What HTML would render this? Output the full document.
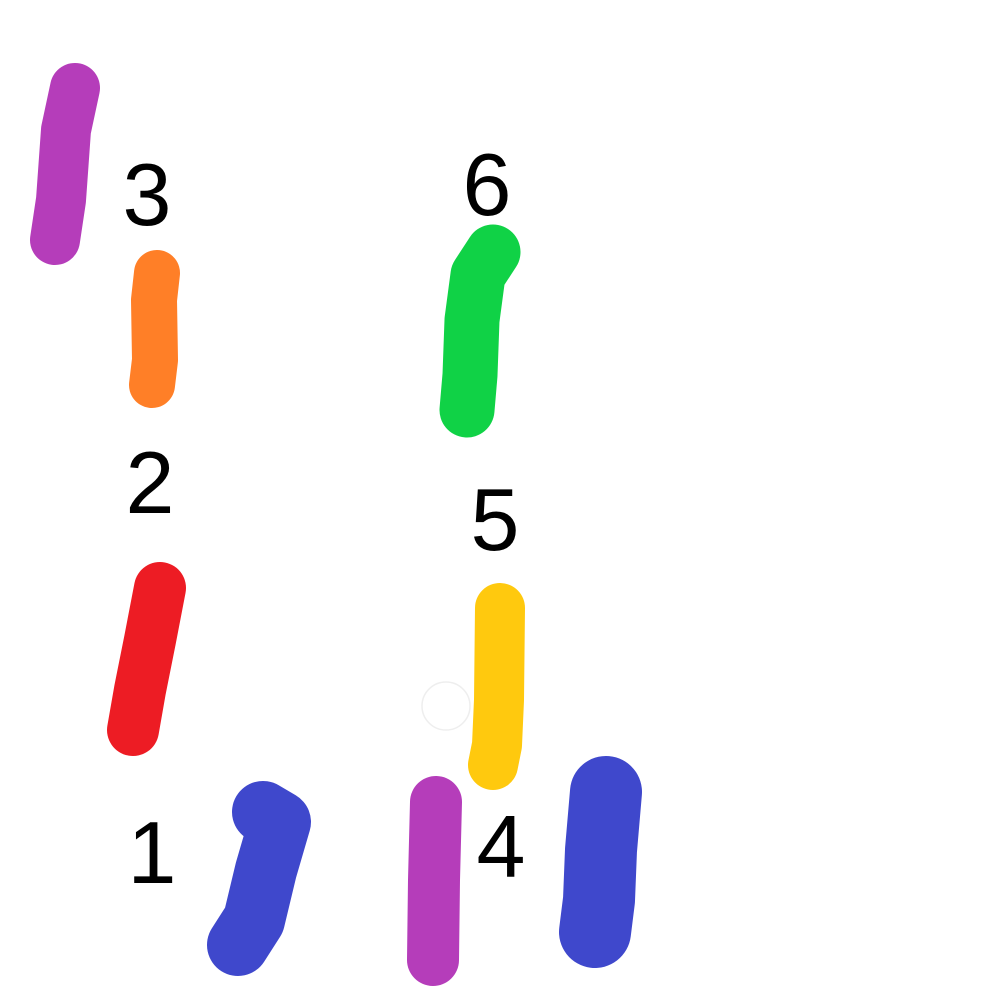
<!DOCTYPE html>
<html><head><meta charset="utf-8"><style>
html,body{margin:0;padding:0;background:#fff;width:1000px;height:1000px;overflow:hidden}
svg{display:block}
text{font-family:"Liberation Sans","DejaVu Sans",sans-serif;font-size:88px;fill:#000;text-anchor:middle}
path{fill:none;stroke-linecap:round;stroke-linejoin:round}
</style></head><body>
<svg width="1000" height="1000" viewBox="0 0 1000 1000">
<rect width="1000" height="1000" fill="#fff"/>
<path d="M75,88 L66,130 L61,200 L55,240" stroke="#b53dba" stroke-width="50"/>
<path d="M157,273 L154,300 L155,360 L152,385" stroke="#ff7f27" stroke-width="46"/>
<path d="M160,588 L150,640 L140,690 L133,730" stroke="#ed1c24" stroke-width="52"/>
<path d="M263,812 L280,822 L266,870 L254,920 L238,945" stroke="#3f48cc" stroke-width="62"/>
<path d="M436,802 L434,880 L433,960" stroke="#b53dba" stroke-width="52"/>
<path d="M500,608 L499,700 L497,745 L493,765" stroke="#ffc90e" stroke-width="50"/>
<path d="M493,252 L478,275 L472,320 L470,375 L467,410" stroke="#10d246" stroke-width="55"/>
<path d="M606,792 L601,850 L599,900 L595,932" stroke="#3f48cc" stroke-width="72"/>
<circle cx="446" cy="706" r="24" fill="#fff" stroke="#eee" stroke-width="1.5"/>
<text x="147" y="225">3</text>
<text x="487" y="215">6</text>
<text x="150" y="513">2</text>
<text x="495" y="550">5</text>
<text x="152" y="883">1</text>
<text x="501" y="877">4</text>
</svg>
</body></html>
